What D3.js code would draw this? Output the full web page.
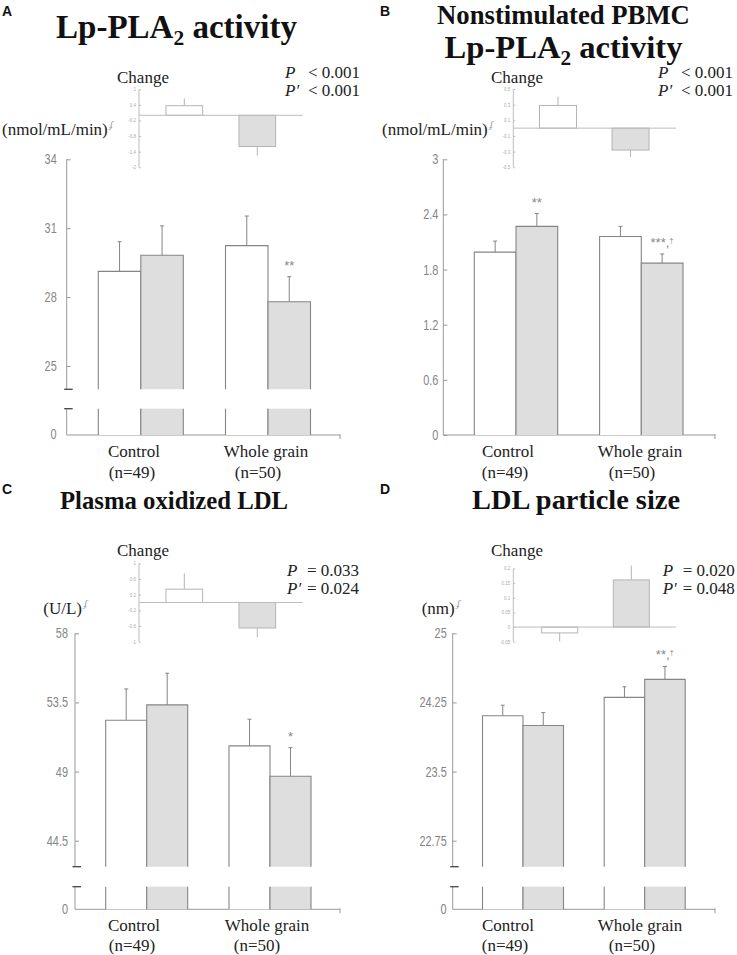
<!DOCTYPE html>
<html><head><meta charset="utf-8">
<script src="https://cdn.jsdelivr.net/npm/d3@7"></script>
<style>
body{margin:0;background:#fff}
</style></head><body>
<svg id="c" width="737" height="955"></svg>
<script>
// ---------------- DATA ----------------
const groups = ["Control", "Whole grain"];
const groupN = ["(n=49)", "(n=50)"];
const series = ["Baseline", "Follow-up"];

// Panel A: Lp-PLA2 activity
const aBase = [29.12, 30.24], aBaseSE = [1.29, 1.29];
const aPost = [29.82, 27.80], aPostSE = [1.28, 1.09];
const aChange = [0.37, -1.20], aChangeSE = [0.28, 0.35];
const aTicks = [25, 28, 31, 34], aTickLabels = ["25", "28", "31", "34"];
const aInsetTicks = [1, 0.4, -0.2, -0.8, -1.4, -2], aInsetLabels = ["1", "0.4", "-0.2", "-0.8", "-1.4", "-2"];
const aSig = ["", "**"];
const aP = ["< 0.001", "< 0.001"];

// Panel B: Nonstimulated PBMC Lp-PLA2 activity
const bBase = [1.99, 2.16], bBaseSE = [0.12, 0.11];
const bPost = [2.27, 1.87], bPostSE = [0.14, 0.10];
const bChange = [0.29, -0.28], bChangeSE = [0.11, 0.09];
const bTicks = [0, 0.6, 1.2, 1.8, 2.4, 3], bTickLabels = ["0", "0.6", "1.2", "1.8", "2.4", "3"];
const bInsetTicks = [0.5, 0.3, 0.1, -0.1, -0.3, -0.5], bInsetLabels = ["0.5", "0.3", "0.1", "-0.1", "-0.3", "-0.5"];
const bSig = ["**", "***,†"];
const bP = ["< 0.001", "< 0.001"];

// Panel C: Plasma oxidized LDL
const cBase = [52.34, 50.67], cBaseSE = [2.04, 1.74];
const cPost = [53.34, 48.70], cPostSE = [2.06, 1.86];
const cChange = [0.34, -0.65], cChangeSE = [0.40, 0.24];
const cTicks = [44.5, 49, 53.5, 58], cTickLabels = ["44.5", "49", "53.5", "58"];
const cInsetTicks = [1, 0.6, 0.2, -0.2, -0.6, -1], cInsetLabels = ["1", "0.6", "0.2", "-0.2", "-0.6", "-1"];
const cSig = ["", "*"];
const cP = ["= 0.033", "= 0.024"];

// Panel D: LDL particle size
const dBase = [24.105, 24.305], dBaseSE = [0.115, 0.115];
const dPost = [24.00, 24.50], dPostSE = [0.14, 0.14];
const dChange = [-0.02, 0.161], dChangeSE = [0.029, 0.049];
const dTicks = [22.75, 23.5, 24.25, 25], dTickLabels = ["22.75", "23.5", "24.25", "25"];
const dInsetTicks = [0.2, 0.15, 0.1, 0.05, 0, -0.05], dInsetLabels = ["0.2", "0.15", "0.1", "0.05", "0", "-0.05"];
const dSig = ["", "**,†"];
const dP = ["= 0.020", "= 0.048"];

// ---------------- PANELS (data + layout) ----------------
const panels = [
  {letter: "A", title: [[["Lp-PLA", false], ["2", true], [" activity", false]]], unit: "(nmol/mL/min)",
   base: aBase, baseSE: aBaseSE, post: aPost, postSE: aPostSE, change: aChange, changeSE: aChangeSE,
   ticks: aTicks, tickLabels: aTickLabels, insetTicks: aInsetTicks, insetLabels: aInsetLabels, sig: aSig, p: aP,
   L: {lx: 2, ly: 16, tx: 176.5, ty: [38], tw: [241], ax: 66.7, xEnd: 340, yRange: [366, 159.3], breakY: 389.3, lowerTop: 408.7, zeroY: 435,
       centers: [140.8, 268], barW: 42.5, pad: 10, ux: 2, uy: 135, chx: 143, chy: 83, px: 285, pgap: 23, py: [78, 96],
       catX: [134, 266], nX: [132, 258], catY: [457, 478],
       inset: {ax: 139, xEnd: 302.7, yRange: [167.3, 89.3], centers: [184.3, 257.3], barW: 36.7}}},
  {letter: "B", title: [[["Nonstimulated PBMC", false]], [["Lp-PLA", false], ["2", true], [" activity", false]]], unit: "(nmol/mL/min)",
   base: bBase, baseSE: bBaseSE, post: bPost, postSE: bPostSE, change: bChange, changeSE: bChangeSE,
   ticks: bTicks, tickLabels: bTickLabels, insetTicks: bInsetTicks, insetLabels: bInsetLabels, sig: bSig, p: bP,
   L: {lx: 380, ly: 16, tx: 563.5, ty: [24, 57.5], tw: [253, 238], ax: 443.3, xEnd: 715, yRange: [435, 159.3], breakY: null, lowerTop: null, zeroY: 435,
       centers: [516, 641.3], barW: 41.7, pad: 5, ux: 382, uy: 135, chx: 517, chy: 83, px: 658, pgap: 23, py: [78, 96],
       catX: [508, 640], nX: [505, 632], catY: [457, 478],
       inset: {ax: 513.3, xEnd: 676, yRange: [167.3, 89], centers: [558, 630.5], barW: 37}}},
  {letter: "C", title: [[["Plasma oxidized LDL", false]]], unit: "(U/L)",
   base: cBase, baseSE: cBaseSE, post: cPost, postSE: cPostSE, change: cChange, changeSE: cChangeSE,
   ticks: cTicks, tickLabels: cTickLabels, insetTicks: cInsetTicks, insetLabels: cInsetLabels, sig: cSig, p: cP,
   L: {lx: 2, ly: 494, tx: 174, ty: [509], tw: [228], ax: 75, xEnd: 340, yRange: [840.7, 633.3], breakY: 866.7, lowerTop: 886.7, zeroY: 909.3,
       centers: [146.7, 270], barW: 41, pad: 7, ux: 43.3, uy: 613.5, chx: 143, chy: 556, px: 287, pgap: 20, py: [576, 594],
       catX: [134, 267], nX: [132, 257], catY: [931, 951],
       inset: {ax: 139, xEnd: 302.7, yRange: [641.7, 563.3], centers: [184.3, 257.3], barW: 36.7}}},
  {letter: "D", title: [[["LDL particle size", false]]], unit: "(nm)",
   base: dBase, baseSE: dBaseSE, post: dPost, postSE: dPostSE, change: dChange, changeSE: dChangeSE,
   ticks: dTicks, tickLabels: dTickLabels, insetTicks: dInsetTicks, insetLabels: dInsetLabels, sig: dSig, p: dP,
   L: {lx: 380, ly: 494, tx: 576, ty: [509], tw: [208], ax: 452.7, xEnd: 715, yRange: [840.7, 633.3], breakY: 866.7, lowerTop: 886.7, zeroY: 909.3,
       centers: [523, 644.7], barW: 40.5, pad: 6, ux: 421.7, uy: 613.5, chx: 517, chy: 556, px: 662.7, pgap: 20, py: [576, 594],
       catX: [508, 640], nX: [505, 632], catY: [931, 951],
       inset: {ax: 513.3, xEnd: 676, yRange: [641.7, 568.5], centers: [559.7, 631.3], barW: 36}}}
];

// ---------------- STYLE ----------------
const FILL = "#dedede", EDGE = "#858585", AXIS = "#999", TXT = "#222", TICKTXT = "#858585";
const IN_EDGE = "#b4b4b4", IN_AXIS = "#bdbdbd";
const SERIF = "'Liberation Serif','Times New Roman',Times,'DejaVu Serif',serif";
const SANS = "'Liberation Sans',Arial,'DejaVu Sans',sans-serif";
const TICK_SCALE = 0.78;

const svg = d3.select("#c");

function barPath(x, w, top, bottom) {
  return `M${x},${bottom}V${top}H${x + w}V${bottom}`;
}
function serifText(sel, size) {
  return sel.style("font-family", SERIF).style("font-size", size + "px").attr("fill", TXT);
}

panels.forEach(p => {
  const L = p.L;
  const g = svg.append("g");

  g.append("text").attr("x", L.lx).attr("y", L.ly).text(p.letter)
    .style("font-family", SANS).style("font-weight", "bold").style("font-size", "14px").attr("fill", "#111");

  // title: font size fitted to the reference width
  p.title.forEach((line, li) => {
    const t = g.append("text").attr("x", L.tx).attr("y", L.ty[li]).attr("text-anchor", "middle")
      .style("font-family", SERIF).style("font-weight", "bold").attr("fill", "#111");
    const build = fs => {
      t.style("font-size", fs + "px").selectAll("tspan").remove();
      line.forEach(([s, sub], k) => {
        const ts = t.append("tspan").text(s);
        if (sub) ts.style("font-size", (fs * 0.65) + "px").attr("dy", fs * 0.22);
        else if (k > 0) ts.attr("dy", -fs * 0.22);
      });
    };
    build(26);
    const w = t.node().getBBox().width;
    build(26 * L.tw[li] / w);
  });

  const u = serifText(g.append("text").attr("x", L.ux).attr("y", L.uy), 17).text(p.unit);
  u.append("tspan").text("ʄ").attr("dx", 2).attr("dy", -7).style("font-size", "11px").style("font-style", "italic").attr("fill", "#999");

  // ---- inset (change) ----
  const I = L.inset;
  const iy = d3.scaleLinear().domain(d3.extent(p.insetTicks)).range(I.yRange);
  const ix = d3.scalePoint().domain(groups).range(I.centers);
  const ig = g.append("g");
  ig.append("line").attr("x1", I.ax).attr("x2", I.ax).attr("y1", iy.range()[0]).attr("y2", iy.range()[1]).attr("stroke", IN_AXIS).attr("stroke-width", 1);
  const iAxis = d3.axisRight(iy).tickValues(p.insetTicks).tickSize(2).tickFormat((d, i) => p.insetLabels[i]);
  const iag = ig.append("g").attr("transform", `translate(${I.ax},0)`).call(iAxis);
  iag.select(".domain").remove();
  iag.selectAll(".tick line").attr("stroke", IN_AXIS);
  iag.selectAll(".tick text").attr("x", -3).attr("text-anchor", "end").style("font-size", "4.5px")
    .style("font-family", SANS).attr("fill", "#aaa");
  groups.forEach((gr, i) => {
    const v = p.change[i], se = p.changeSE[i];
    const cx = ix(gr), x0 = cx - I.barW / 2;
    const y0 = iy(0), y1 = iy(v);
    ig.append("rect").attr("x", x0).attr("width", I.barW).attr("y", Math.min(y0, y1)).attr("height", Math.abs(y1 - y0))
      .attr("fill", i === 0 ? "#fff" : FILL).attr("stroke", IN_EDGE).attr("stroke-width", 1);
    const ye = iy(v >= 0 ? v + se : v - se);
    ig.append("line").attr("x1", cx).attr("x2", cx).attr("y1", y1).attr("y2", ye).attr("stroke", IN_EDGE);
  });
  ig.append("line").attr("x1", I.ax).attr("x2", I.xEnd).attr("y1", iy(0)).attr("y2", iy(0)).attr("stroke", IN_AXIS).attr("stroke-width", 1);

  serifText(g.append("text").attr("x", L.chx).attr("y", L.chy).attr("text-anchor", "middle"), 17).text("Change");

  ["P", "P\u2032"].forEach((lab, k) => {
    serifText(g.append("text").attr("x", L.px).attr("y", L.py[k]), 17).style("font-style", "italic").text(lab);
    serifText(g.append("text").attr("x", L.px + L.pgap).attr("y", L.py[k]), 17).text(p.p[k]);
  });

  // ---- main chart ----
  const y = d3.scaleLinear().domain(d3.extent(p.ticks)).range(L.yRange);
  const x = d3.scalePoint().domain(groups).range(L.centers);
  const sx = d3.scaleBand().domain(series).range([-L.barW, L.barW]).padding(0);
  const broken = L.breakY !== null;
  const upperBottom = broken ? L.breakY : L.zeroY;
  const topY = y(d3.max(p.ticks));

  g.append("line").attr("x1", L.ax).attr("x2", L.ax).attr("y1", topY).attr("y2", upperBottom).attr("stroke", AXIS);
  if (broken) {
    g.append("line").attr("x1", L.ax).attr("x2", L.ax).attr("y1", L.lowerTop).attr("y2", L.zeroY).attr("stroke", AXIS);
    [L.breakY, L.lowerTop].forEach(yy =>
      g.append("line").attr("x1", L.ax - 2.5).attr("x2", L.ax + 6).attr("y1", yy).attr("y2", yy).attr("stroke", "#444").attr("stroke-width", 1.3));
  }
  const ax = d3.axisLeft(y).tickValues(p.ticks).tickSizeInner(-4).tickSizeOuter(0).tickPadding(L.pad)
    .tickFormat((d, i) => p.tickLabels[i]);
  const ag = g.append("g").attr("transform", `translate(${L.ax},0)`).call(ax);
  ag.select(".domain").remove();
  ag.selectAll(".tick line").attr("stroke", AXIS);
  ag.selectAll(".tick text").style("font-family", SANS).style("font-size", "14px").attr("fill", TICKTXT)
    .attr("x", -L.pad / TICK_SCALE).attr("transform", `scale(${TICK_SCALE},1)`);
  if (broken) {
    g.append("text").attr("x", (L.ax - L.pad) / TICK_SCALE).attr("y", L.zeroY).attr("dy", "0.32em").attr("text-anchor", "end")
      .attr("transform", `scale(${TICK_SCALE},1)`)
      .style("font-family", SANS).style("font-size", "14px").attr("fill", TICKTXT).text("0");
  }
  g.append("line").attr("x1", L.ax).attr("x2", L.xEnd).attr("y1", L.zeroY).attr("y2", L.zeroY).attr("stroke", AXIS);
  g.append("line").attr("x1", L.xEnd).attr("x2", L.xEnd).attr("y1", L.zeroY - 1).attr("y2", L.zeroY + 4).attr("stroke", AXIS);

  groups.forEach((gr, i) => {
    series.forEach((s, k) => {
      const v = k === 0 ? p.base[i] : p.post[i];
      const se = k === 0 ? p.baseSE[i] : p.postSE[i];
      const x0 = x(gr) + sx(s), w = sx.bandwidth();
      const fill = k === 0 ? "#fff" : FILL;
      g.append("path").attr("d", barPath(x0, w, y(v), upperBottom)).attr("fill", fill).attr("stroke", EDGE).attr("stroke-width", 1.1);
      if (broken) {
        g.append("rect").attr("x", x0).attr("y", L.lowerTop).attr("width", w).attr("height", L.zeroY - L.lowerTop).attr("fill", fill);
        g.append("line").attr("x1", x0).attr("x2", x0).attr("y1", L.lowerTop).attr("y2", L.zeroY).attr("stroke", EDGE).attr("stroke-width", 1.1);
        g.append("line").attr("x1", x0 + w).attr("x2", x0 + w).attr("y1", L.lowerTop).attr("y2", L.zeroY).attr("stroke", EDGE).attr("stroke-width", 1.1);
      }
      const cx = x0 + w / 2, ye = y(v + se);
      g.append("line").attr("x1", cx).attr("x2", cx).attr("y1", y(v)).attr("y2", ye).attr("stroke", EDGE);
      g.append("line").attr("x1", cx - 2).attr("x2", cx + 2).attr("y1", ye).attr("y2", ye).attr("stroke", EDGE);
      if (k === 1 && p.sig[i]) {
        const parts = p.sig[i].split("†");
        const t = g.append("text").attr("x", cx).attr("y", ye - 7).attr("text-anchor", "middle")
          .style("font-family", SANS).style("font-size", "13px").attr("fill", "#888");
        t.append("tspan").text(parts[0]);
        if (parts.length > 1) t.append("tspan").text("†").attr("dy", -4).style("font-size", "8px");
      }
    });
    serifText(g.append("text").attr("x", L.catX[i]).attr("y", L.catY[0]).attr("text-anchor", "middle"), 17).text(gr);
    serifText(g.append("text").attr("x", L.nX[i]).attr("y", L.catY[1]).attr("text-anchor", "middle"), 17).text(groupN[i]);
  });
});
</script>
</body></html>
